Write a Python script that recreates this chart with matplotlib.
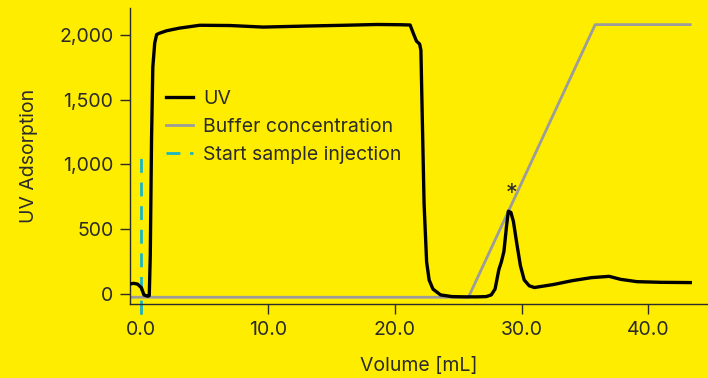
import matplotlib.pyplot as plt

# ---------------------------------------------------------------------------
# Data
# ---------------------------------------------------------------------------
uv_volume = [-0.9, -0.6, -0.3, 0.0, 0.2, 0.5, 0.62, 0.7, 0.8, 0.9, 1.05, 1.2,
             1.4, 2.0, 3.0, 4.6, 7.0, 9.6, 13.0, 16.0, 18.6, 20.5, 21.2,
             21.45, 21.7, 21.95, 22.05, 22.15, 22.3, 22.5, 22.7, 23.0, 23.6,
             24.5, 25.5, 26.5, 27.2, 27.6, 27.9, 28.2, 28.4, 28.6, 28.8, 28.95,
             29.15, 29.35, 29.6, 29.9, 30.2, 30.6, 31.0, 32.5, 34.0, 35.5,
             36.9, 37.8, 39.1, 41.0, 43.3]
uv_signal = [80, 84, 78, 50, -5, -15, -10, 300, 1200, 1750, 1935, 2000,
             2010, 2030, 2050, 2072, 2070, 2058, 2066, 2072, 2078, 2076, 2074,
             2010, 1950, 1927, 1880, 1400, 700, 250, 110, 40, -5,
             -18, -20, -20, -18, -5, 40, 190, 250, 330, 520, 640,
             630, 560, 400, 220, 110, 65, 52, 75, 105, 128,
             138, 115, 97, 92, 90]

buffer_volume = [-0.9, 25.8, 35.8, 43.3]
buffer_signal = [-23, -23, 2077, 2077]

injection_volume = 0.0
injection_range = [-150, 1050]

peak_volume = 29.2
peak_label_y = 770

x_ticks = [0, 10, 20, 30, 40]
y_ticks = [0, 500, 1000, 1500, 2000]

BG = "#FFED00"
TXT = "#2b2b2b"

plt.rcParams["font.family"] = ["Inter", "DejaVu Sans"]

fig = plt.figure(figsize=(7.08, 3.78), dpi=100, facecolor=BG)
ax = fig.add_axes([130 / 708, 74 / 378, 578 / 708, 296 / 378])
ax.set_facecolor(BG)

ax.plot(uv_volume, uv_signal, color="black", linewidth=2.4, label="UV",
        zorder=3, solid_joinstyle="round")
ax.plot(buffer_volume, buffer_signal, color="#9c9c9c", linewidth=2.0,
        label="Buffer concentration", zorder=2)
ax.plot([injection_volume, injection_volume], injection_range,
        color="#19b5c4", linewidth=2.0, linestyle=(0, (5, 3.5)),
        label="Start sample injection", zorder=2, clip_on=False)

ax.text(peak_volume, peak_label_y, "*", ha="center", va="center",
        fontsize=17, color=TXT)

ax.set_xlim(-0.9, 44.7)
ax.set_ylim(-75, 2205)
ax.set_xticks(x_ticks)
ax.set_xticklabels([f"{v:.1f}" for v in x_ticks])
ax.set_yticks(y_ticks)
ax.set_yticklabels([f"{v:,}" for v in y_ticks])

for side in ("top", "right"):
    ax.spines[side].set_visible(False)
for side in ("left", "bottom"):
    ax.spines[side].set_color(TXT)
    ax.spines[side].set_linewidth(1.0)

ax.tick_params(colors=TXT, labelsize=14, length=7, width=1.0, pad=5)
ax.set_xlabel("Volume [mL]", fontsize=14, color=TXT, labelpad=13)
ax.set_ylabel("UV Adsorption", fontsize=14, color=TXT, labelpad=15)

leg = ax.legend(loc="upper left", bbox_to_anchor=(0.048, 0.75), frameon=False,
                fontsize=14, handlelength=1.4, handletextpad=0.55,
                labelspacing=0.52, borderaxespad=0)
for t in leg.get_texts():
    t.set_color(TXT)

fig.savefig("out.png", dpi=100, facecolor=BG)
